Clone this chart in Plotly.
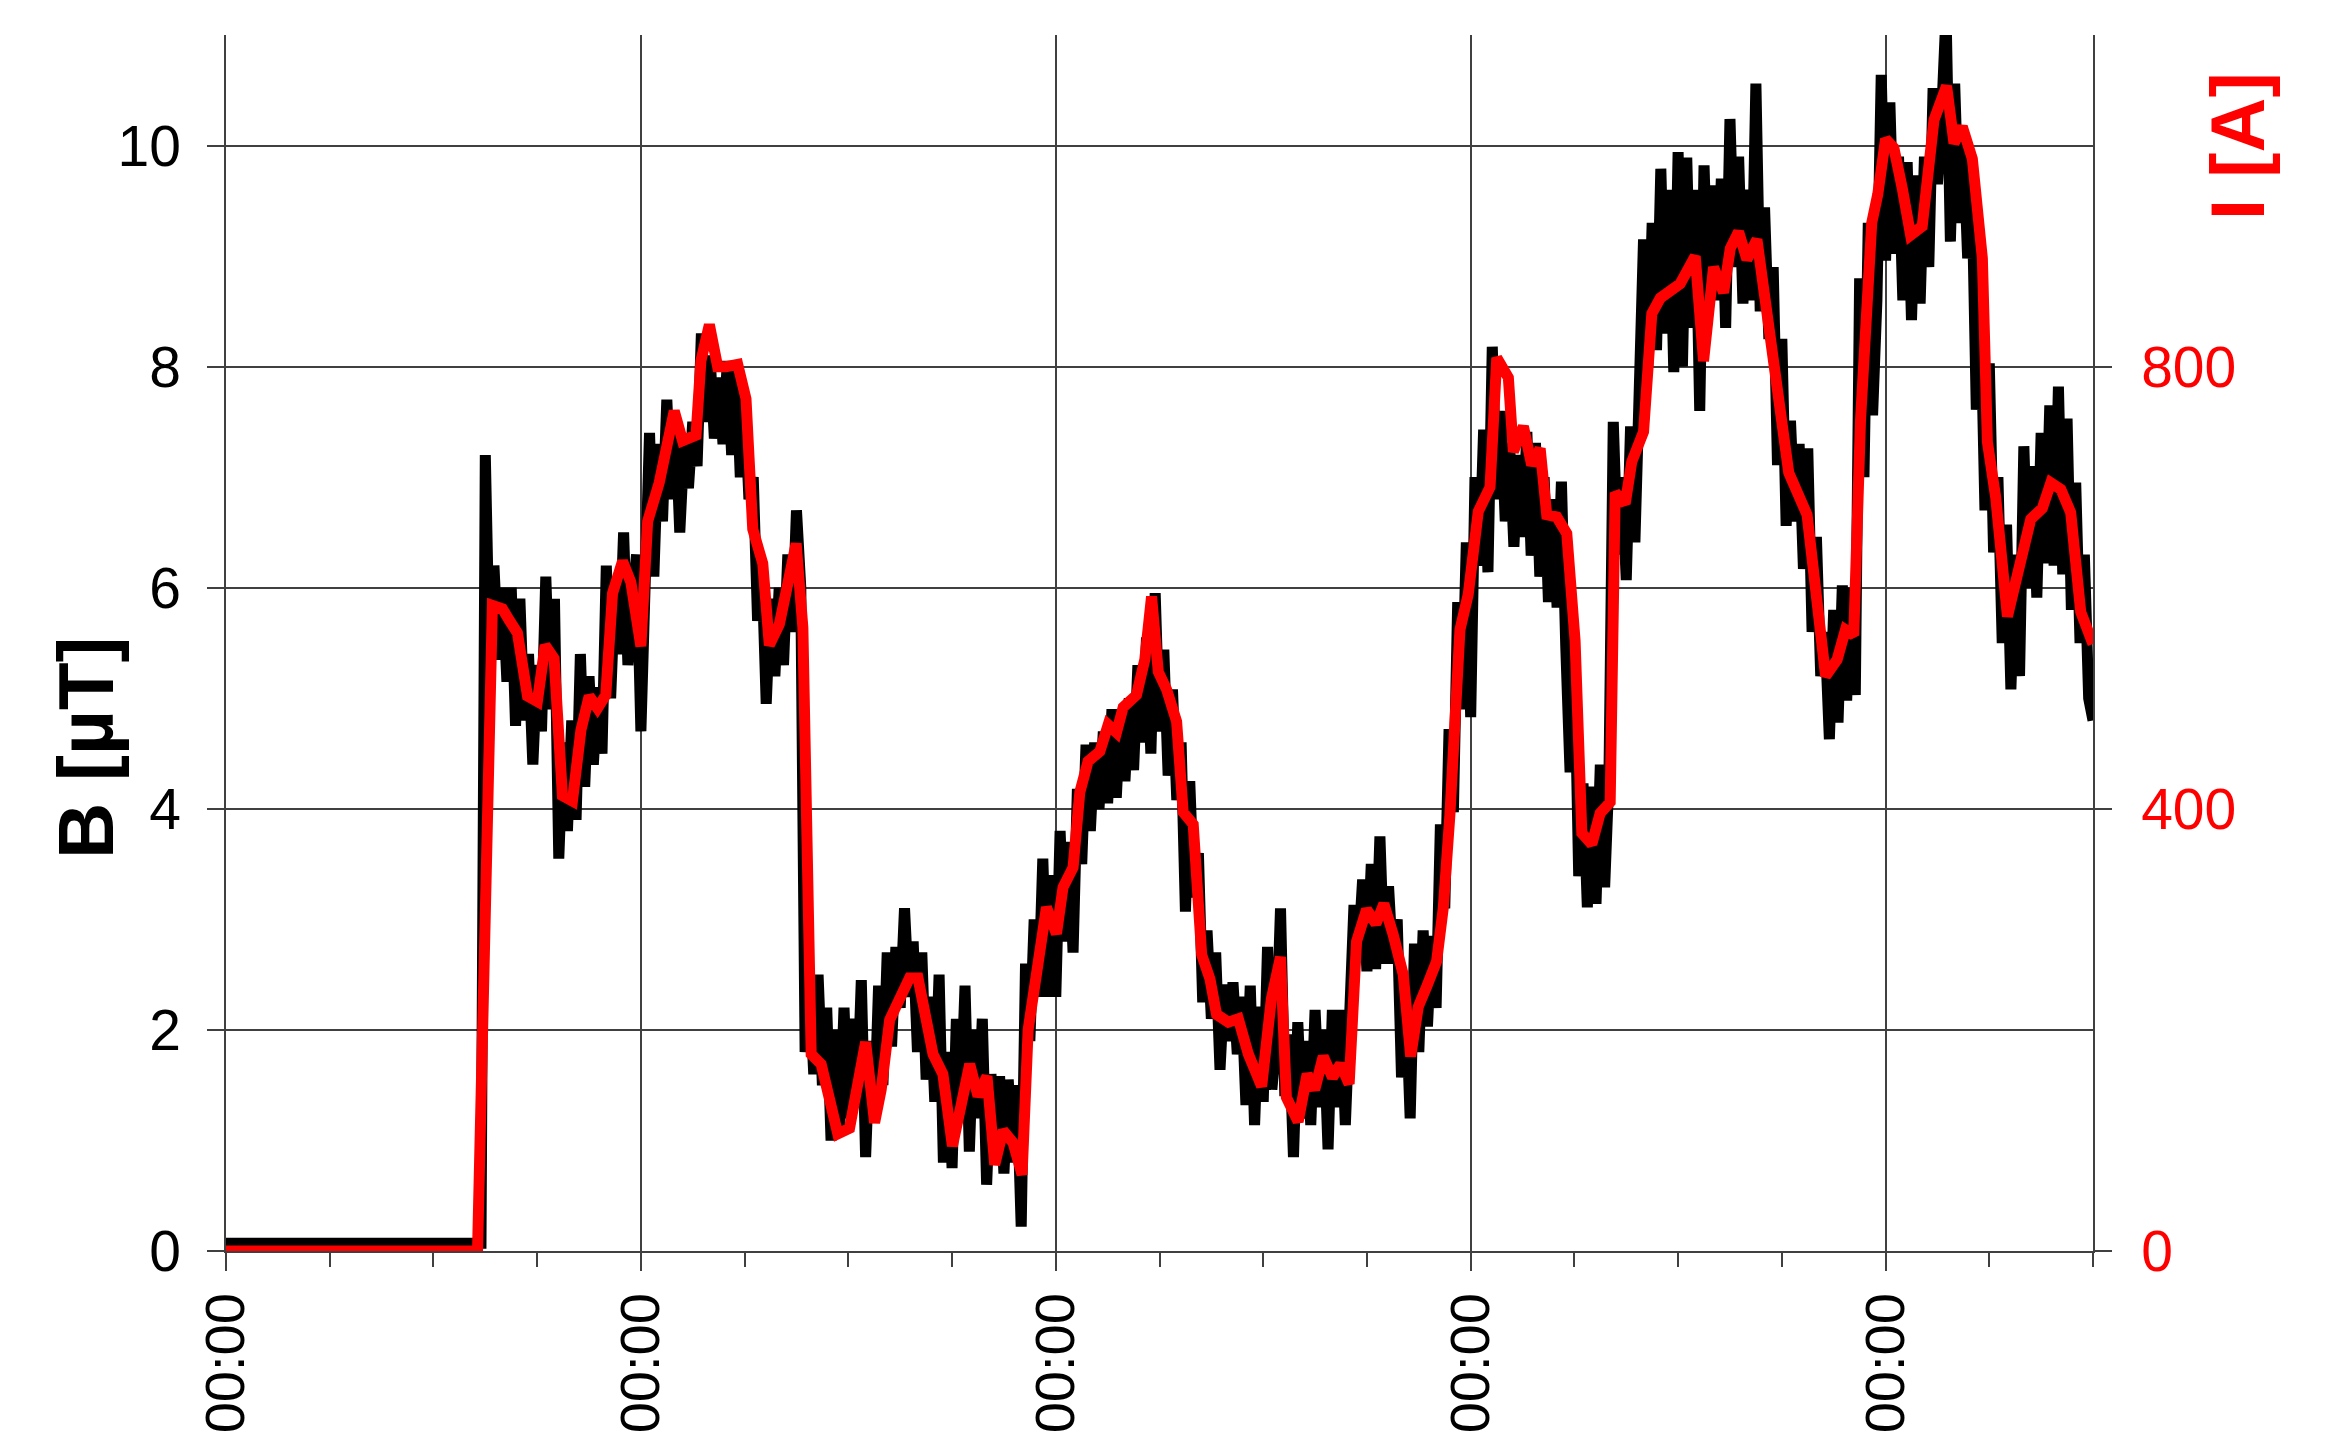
import numpy as np
import plotly.graph_objects as go

# Magnetic flux density B [uT], sampled every 15 minutes (hours from start)
b_flat = [0.07] * 60  # 0.00 h .. 14.75 h, before the line is energised
b_active = [
    7.2, 5.3, 6.2, 5.35,      # 15 h
    6.0, 5.15, 6.0, 4.75,     # 16 h
    5.9, 4.8, 5.4, 4.4,       # 17 h
    5.3, 4.7, 6.1, 4.9,       # 18 h
    5.9, 3.55, 4.6, 3.8,      # 19 h
    4.8, 3.9, 5.4, 4.2,       # 20 h
    5.2, 4.4, 5.1, 4.5,       # 21 h
    6.2, 5.0, 6.0, 5.4,       # 22 h
    6.5, 5.3, 5.9, 6.3,       # 23 h
    4.7, 6.3, 7.4, 6.1,       # 24 h
    7.3, 6.6, 7.7, 6.8,       # 25 h
    7.5, 6.5, 7.3, 6.9,       # 26 h
    7.5, 7.1, 8.3, 7.5,       # 27 h
    8.1, 7.35, 7.9, 7.3,      # 28 h
    8.05, 7.2, 8.05, 7.0,     # 29 h
    7.7, 6.8, 7.0, 5.7,       # 30 h
    6.2, 4.95, 5.9, 5.2,      # 31 h
    6.0, 5.3, 6.3, 5.6,       # 32 h
    6.7, 6.0, 1.8, 2.4,       # 33 h
    1.6, 2.5, 1.5, 2.2,       # 34 h
    1.0, 2.0, 1.1, 2.2,       # 35 h
    1.2, 2.1, 1.3, 2.45,      # 36 h
    0.85, 1.9, 1.2, 2.4,      # 37 h
    1.5, 2.7, 1.85, 2.75,     # 38 h
    2.2, 3.1, 2.3, 2.8,       # 39 h
    1.8, 2.7, 1.55, 2.3,      # 40 h
    1.35, 2.5, 0.8, 1.8,      # 41 h
    0.75, 2.1, 1.3, 2.4,      # 42 h
    0.9, 2.0, 1.2, 2.1,       # 43 h
    0.6, 1.6, 0.9, 1.58,      # 44 h
    0.7, 1.55, 0.8, 1.5,      # 45 h
    0.22, 2.6, 1.9, 3.0,      # 46 h
    2.3, 3.55, 2.3, 3.4,      # 47 h
    2.3, 3.8, 2.8, 3.7,       # 48 h
    2.7, 4.18, 3.5, 4.58,     # 49 h
    3.8, 4.6, 4.0, 4.7,       # 50 h
    4.05, 4.9, 4.1, 4.9,      # 51 h
    4.25, 5.0, 4.35, 5.3,     # 52 h
    4.6, 5.55, 4.5, 5.95,     # 53 h
    4.7, 5.44, 4.3, 5.08,     # 54 h
    4.08, 4.6, 3.07, 4.25,    # 55 h
    3.2, 3.6, 2.25, 2.9,      # 56 h
    2.1, 2.7, 1.64, 2.41,     # 57 h
    1.9, 2.43, 1.78, 2.3,     # 58 h
    1.32, 2.4, 1.14, 2.21,    # 59 h
    1.35, 2.75, 1.46, 1.9,    # 60 h
    3.1, 1.4, 1.96, 0.85,     # 61 h
    2.07, 1.2, 1.9, 1.14,     # 62 h
    2.18, 1.3, 2.0, 0.92,     # 63 h
    2.18, 1.3, 2.18, 1.14,    # 64 h
    2.0, 3.13, 2.7, 3.36,     # 65 h
    2.53, 3.5, 2.55, 3.75,    # 66 h
    2.6, 3.3, 2.6, 3.0,       # 67 h
    1.57, 2.3, 1.2, 2.78,     # 68 h
    1.8, 2.9, 2.03, 2.85,     # 69 h
    2.2, 3.86, 3.1, 4.72,     # 70 h
    3.97, 5.87, 4.9, 6.41,    # 71 h
    4.83, 7.0, 6.2, 7.43,     # 72 h
    6.14, 8.18, 6.8, 7.6,     # 73 h
    6.6, 7.31, 6.37, 7.2,     # 74 h
    6.46, 7.41, 6.29, 7.31,   # 75 h
    6.1, 7.0, 5.87, 6.8,      # 76 h
    5.82, 6.96, 5.47, 4.33,   # 77 h
    5.4, 3.39, 4.23, 3.11,    # 78 h
    4.2, 3.14, 4.4, 3.29,     # 79 h
    4.3, 7.5, 6.3, 7.0,       # 80 h
    6.07, 7.46, 6.41, 7.6,    # 81 h
    9.15, 8.0, 9.3, 8.15,     # 82 h
    9.79, 8.3, 9.6, 7.95,     # 83 h
    9.94, 8.0, 9.89, 8.35,    # 84 h
    9.6, 7.6, 9.82, 8.5,      # 85 h
    9.64, 8.6, 9.7, 8.35,     # 86 h
    10.24, 8.9, 9.9, 8.57,    # 87 h
    9.6, 8.6, 10.56, 8.5,     # 88 h
    9.44, 8.25, 8.9, 7.11,    # 89 h
    8.25, 6.56, 7.51, 6.6,    # 90 h
    7.3, 6.17, 7.26, 5.6,     # 91 h
    6.46, 5.2, 5.6, 4.63,     # 92 h
    5.8, 4.78, 6.02, 4.98,    # 93 h
    6.0, 5.03, 8.8, 7.0,      # 94 h
    9.3, 7.56, 8.6, 10.64,    # 95 h
    8.96, 10.39, 9.02, 9.9,   # 96 h
    8.6, 9.85, 8.42, 9.73,    # 97 h
    8.57, 9.9, 8.9, 10.52,    # 98 h
    9.65, 10.3, 11.2, 9.13,   # 99 h
    10.56, 9.3, 10.02, 8.98,  # 100 h
    9.6, 7.61, 8.5, 6.7,      # 101 h
    8.03, 6.32, 7.0, 5.5,     # 102 h
    6.57, 5.08, 6.3, 5.2,     # 103 h
    7.28, 6.0, 7.1, 5.91,     # 104 h
    7.4, 6.22, 7.65, 6.2,     # 105 h
    7.82, 6.12, 7.53, 5.8,    # 106 h
    6.95, 5.5, 6.3, 5.0,      # 107 h
    4.8,                      # 108 h
]
b_values = b_flat + b_active
b_step_h = 0.25
b_hours = np.arange(len(b_values)) * b_step_h

# Line current I [A] (hours from start)
i_hours = [
    0, 14.55, 15.41, 15.99, 16.37, 16.86, 17.44, 18.01, 18.46, 18.98,
    19.46, 20.04, 20.53, 21.01, 21.49, 21.97, 22.36, 22.94, 23.42, 24.0,
    24.39, 25.06, 25.93, 26.41, 27.19, 27.47, 27.96, 28.44, 28.92, 29.6,
    30.08, 30.47, 31.05, 31.43, 32.01, 32.6, 32.98, 33.37, 33.85, 34.43,
    34.81, 35.39, 36.07, 36.55, 37.0, 37.52, 37.9, 38.39, 38.97, 39.54,
    40.03, 40.51, 40.9, 41.47, 42.02, 42.54, 43.02, 43.5, 44.02, 44.47,
    44.95, 45.53, 46.05, 46.4, 46.88, 47.46, 48.04, 48.42, 49.0, 49.39,
    49.87, 50.55, 51.03, 51.51, 51.9, 52.67, 53.15, 53.54, 53.93, 54.41,
    54.99, 55.37, 55.95, 56.44, 56.92, 57.3, 57.98, 58.56, 59.14, 59.91,
    60.47, 61.0, 61.34, 62.02, 62.54, 62.98, 63.47, 64.01, 64.47, 64.97,
    65.4, 65.98, 66.52, 66.98, 67.52, 68.1, 68.53, 68.97, 69.45, 70.03,
    70.42, 70.8, 71.38, 71.86, 72.44, 73.12, 73.51, 74.18, 74.47, 75.05,
    75.53, 76.02, 76.4, 76.98, 77.56, 78.04, 78.43, 79.01, 79.49, 80.07,
    80.36, 80.94, 81.32, 82.0, 82.48, 82.97, 84.12, 84.99, 85.47, 86.05,
    86.63, 87.02, 87.5, 87.98, 88.56, 89.43, 90.4, 91.46, 92.04, 92.53,
    93.2, 93.68, 94.16, 94.55, 95.2, 95.55, 96.0, 96.48, 96.97, 97.45,
    98.12, 98.8, 99.53, 99.96, 100.44, 101.02, 101.6, 101.89, 102.37, 103.05,
    103.63, 104.4, 105.07, 105.56, 106.14, 106.71, 107.29, 108.0,
]
i_amps = [
    0, 0, 584, 581, 571, 559, 502, 497, 548, 536,
    412, 407, 471, 502, 491, 503, 595, 624, 605, 547,
    660, 695, 760, 733, 738, 805, 838, 800, 800, 802,
    771, 653, 622, 548, 567, 609, 640, 564, 178, 169,
    142, 106, 111, 151, 189, 116, 146, 209, 227, 247,
    247, 205, 178, 160, 95, 133, 169, 140, 158, 78,
    109, 98, 69, 200, 249, 311, 287, 329, 347, 415,
    443, 452, 476, 469, 492, 503, 535, 592, 524, 508,
    479, 397, 386, 268, 246, 214, 207, 210, 178, 149,
    228, 266, 139, 117, 160, 146, 176, 157, 169, 151,
    280, 309, 296, 314, 286, 250, 176, 221, 239, 262,
    311, 395, 562, 594, 669, 691, 808, 790, 723, 746,
    711, 726, 666, 664, 649, 552, 378, 368, 396, 406,
    686, 676, 714, 741, 848, 862, 875, 900, 805, 890,
    867, 907, 922, 897, 915, 820, 704, 666, 594, 520,
    535, 562, 557, 751, 930, 956, 1006, 998, 961, 919,
    927, 1023, 1054, 1002, 1017, 988, 898, 732, 682, 574,
    612, 662, 672, 695, 689, 668, 578, 549,
]

# Axis ticks
day_ticks = [0, 24, 48, 72, 96]
day_labels = ["00:00:00"] * len(day_ticks)
b_ticks = [0, 2, 4, 6, 8, 10]
i_ticks = [0, 400, 800]

FONT = "Liberation Sans, Arial, sans-serif"
GRID = "#404040"

# plot-area geometry in pixels
W, H = 2336, 1431
L, R, T, B = 226, 243, 35, 180
pw, ph = W - L - R, H - T - B


def px_to_paper(px, py):
    return (px - L) / pw, (H - B - py) / ph


fig = go.Figure()
fig.add_trace(go.Scatter(
    x=b_hours, y=b_values, mode="lines", name="B",
    line=dict(color="#000000", width=11), yaxis="y", showlegend=False,
))
fig.add_trace(go.Scatter(
    x=i_hours, y=i_amps, mode="lines", name="I",
    line=dict(color="#ff0000", width=11), yaxis="y2", showlegend=False,
))

bx, by = px_to_paper(86, 748)
ix, iy = px_to_paper(2237, 146)

fig.update_layout(
    width=W, height=H,
    margin=dict(l=L, r=R, t=T, b=B, pad=0),
    paper_bgcolor="white", plot_bgcolor="white",
    font=dict(family=FONT, color="black", size=56),
    xaxis=dict(
        range=[0, 108], tickmode="array", tickvals=day_ticks, ticktext=day_labels,
        tickangle=-90, tickfont=dict(size=56, color="black"),
        ticks="outside", ticklen=18, tickwidth=1.5, tickcolor=GRID,
        showgrid=True, gridcolor=GRID, gridwidth=1.5,
        showline=True, linecolor=GRID, linewidth=1.5,
        zeroline=False, automargin=False,
        minor=dict(tickmode="linear", tick0=0, dtick=6, ticks="outside",
                   ticklen=14, tickwidth=1.5, tickcolor=GRID, showgrid=False),
    ),
    yaxis=dict(
        range=[0, 11], tickmode="array", tickvals=b_ticks,
        tickfont=dict(size=57, color="black"), ticklabelstandoff=15,
        ticks="outside", ticklen=17, tickwidth=1.5, tickcolor=GRID,
        showgrid=True, gridcolor=GRID, gridwidth=1.5,
        showline=True, linecolor=GRID, linewidth=1.5,
        zeroline=False, automargin=False,
    ),
    yaxis2=dict(
        range=[0, 1100], overlaying="y", side="right",
        tickmode="array", tickvals=i_ticks,
        tickfont=dict(size=57, color="#ff0000"), ticklabelstandoff=18,
        ticks="outside", ticklen=17, tickwidth=1.5, tickcolor=GRID,
        showgrid=False, showline=True, linecolor=GRID, linewidth=1.5,
        zeroline=False, automargin=False,
    ),
    annotations=[
        dict(text="<b>B [µT]</b>", x=bx, y=by, xref="paper", yref="paper",
             textangle=-90, showarrow=False, xanchor="center", yanchor="middle",
             font=dict(family=FONT, size=78, color="black")),
        dict(text="<b>I [A]</b>", x=ix, y=iy, xref="paper", yref="paper",
             textangle=-90, showarrow=False, xanchor="center", yanchor="middle",
             font=dict(family=FONT, size=76, color="#ff0000")),
    ],
)

fig.write_html("out.html")
